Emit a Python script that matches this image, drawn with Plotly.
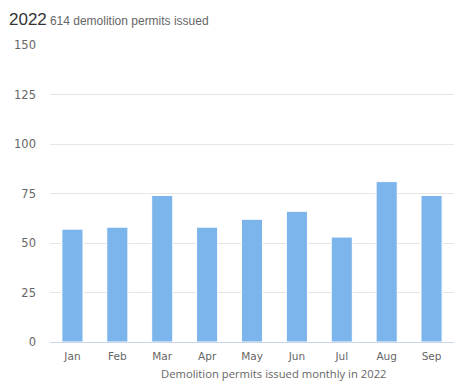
import plotly.graph_objects as go

months = ["Jan", "Feb", "Mar", "Apr", "May", "Jun", "Jul", "Aug", "Sep"]
permits = [57, 58, 74, 58, 62, 66, 53, 81, 74]
y_ticks = [0, 25, 50, 75, 100, 125, 150]
title_year = "2022"
title_sub = "614 demolition permits issued"
x_title = "Demolition permits issued monthly in 2022"

fig = go.Figure(go.Bar(
    x=months, y=permits,
    marker=dict(color="#7cb5ec", line=dict(color="#ffffff", width=1)),
))

# page body has an 8px margin, so the figure is 8px smaller and offset
fig.update_layout(
    width=456, height=378,
    margin=dict(l=42, r=10, t=37, b=44, autoexpand=False),
    paper_bgcolor="#ffffff", plot_bgcolor="#ffffff",
    bargap=0.53,
    showlegend=False,
    font=dict(family="DejaVu Sans", color="#666666", size=11),
    annotations=[
        dict(text=f"<span style='font-size:17px;color:#333333'>{title_year}</span> "
                  f"<span style='font-size:12px;color:#666666'>{title_sub}</span>",
             xref="paper", yref="paper", x=0, y=1, xshift=-43, yshift=37,
             xanchor="left", yanchor="top", showarrow=False,
             font=dict(family="Liberation Sans")),
        dict(text=x_title, xref="paper", yref="paper", x=0.554, y=0, yshift=-31,
             xanchor="center", yanchor="middle", showarrow=False,
             font=dict(family="Open Sans", size=11.25, color="#666666")),
    ],
)
fig.update_xaxes(
    automargin=False,
    showgrid=False, showline=True, linecolor="#ccd6eb", linewidth=1,
    ticks="", ticklabelstandoff=4, tickfont=dict(size=10.5, color="#666666"),
)
fig.update_yaxes(
    automargin=False,
    range=[0, 150], tickvals=y_ticks, showgrid=True, gridcolor="#e6e6e6",
    zeroline=False, showline=False, ticks="", ticklabelstandoff=13,
    tickfont=dict(size=11.5, color="#666666"),
)

fig.write_html("out.html")
